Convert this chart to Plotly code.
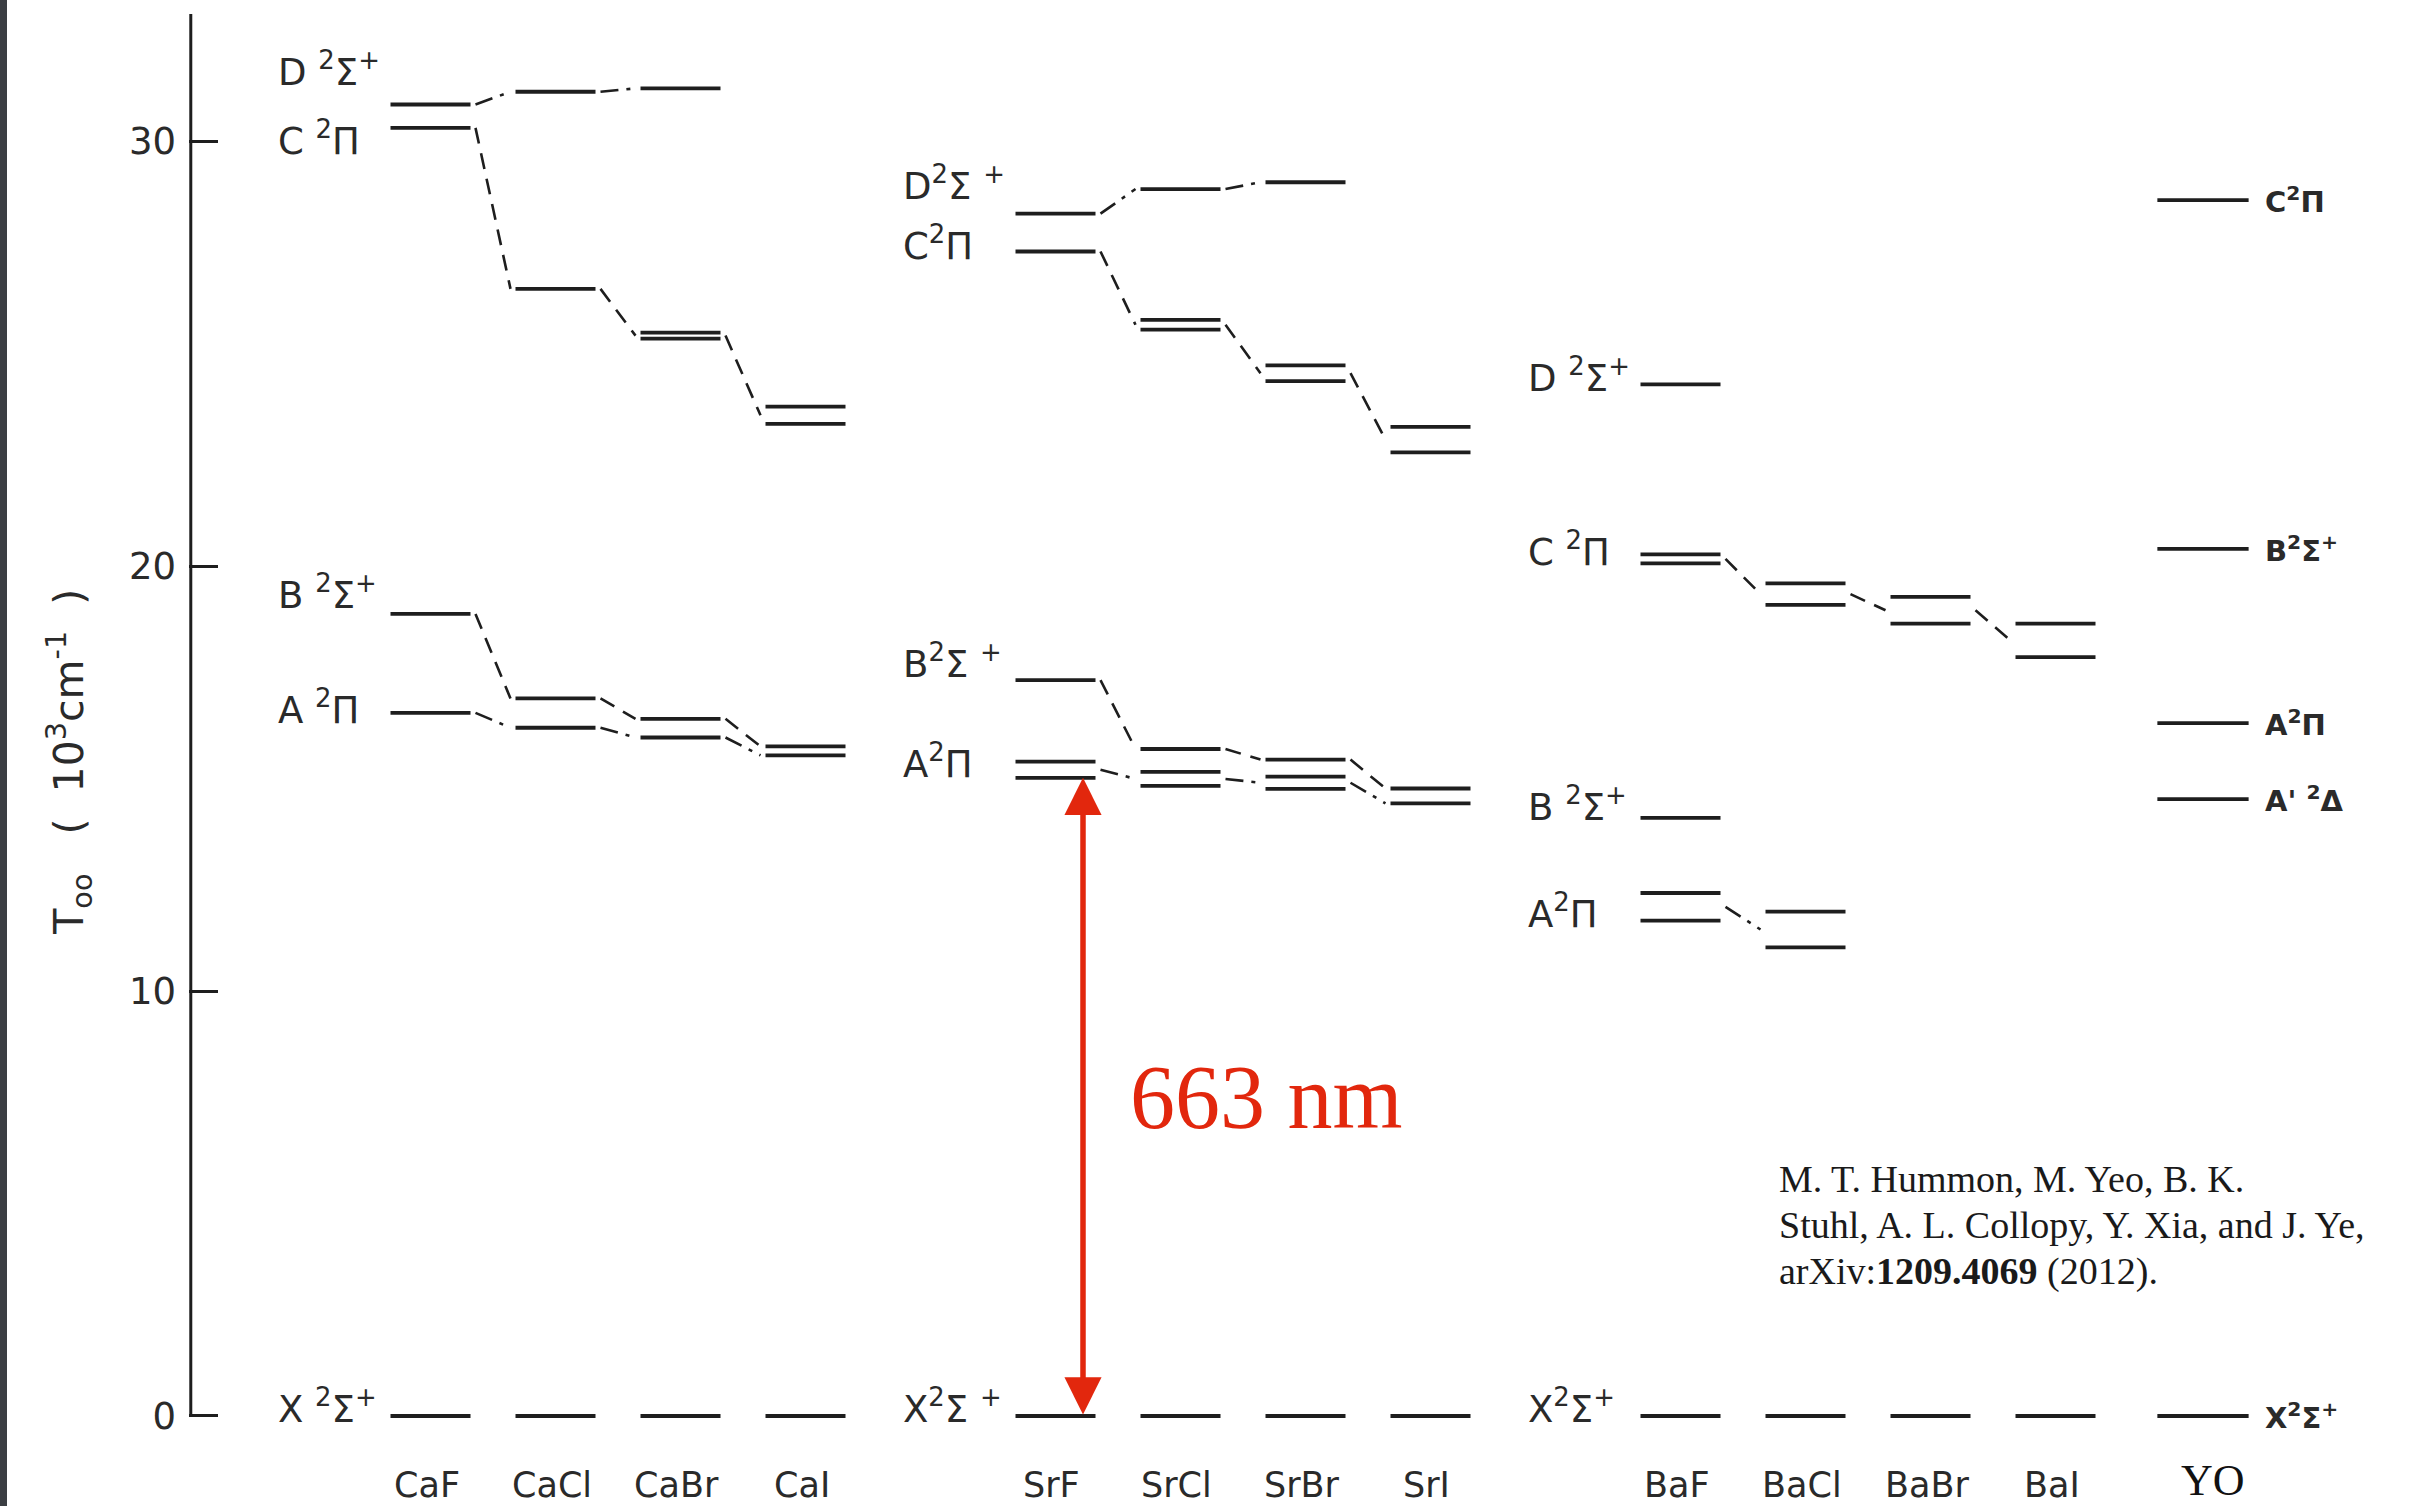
import plotly.graph_objects as go

# ---------------- data (T00 in 10^3 cm^-1) ----------------
molecules = ["CaF", "CaCl", "CaBr", "CaI", "SrF", "SrCl", "SrBr", "SrI",
             "BaF", "BaCl", "BaBr", "BaI", "YO"]
families = ["Ca", "Ca", "Ca", "Ca", "Sr", "Sr", "Sr", "Sr",
            "Ba", "Ba", "Ba", "Ba", "Y"]

# each entry: list of (split) components, or None when not shown
X_state = [[0.0], [0.0], [0.0], [0.0], [0.0], [0.0], [0.0], [0.0],
           [0.0], [0.0], [0.0], [0.0], [0.0]]
A_state = [[16.55], [16.20], [15.97], [15.55], [15.40, 15.02], [15.16, 14.83],
           [15.05, 14.76], [14.42], [12.31, 11.66], [11.87, 11.03], None, None, [16.31]]
B_state = [[18.88], [16.89], [16.41], [15.76], [17.32], [15.70], [15.45], [14.77],
           [14.08], None, None, None, [20.41]]
C_state = [[30.32], [26.53], [25.50, 25.36], [23.76, 23.35], [27.41], [25.80, 25.57],
           [24.73, 24.36], [23.28, 22.68], [20.28, 20.07], [19.60, 19.09],
           [19.28, 18.65], [18.65, 17.86], [28.62]]
D_state = [[30.87], [31.17], [31.25], None, [28.30], [28.88], [29.04], None,
           [24.28], None, None, None, None]
Aprime_state = [None, None, None, None, None, None, None, None,
                None, None, None, None, [14.52]]

y_tick_values = [0, 10, 20, 30]
y_tick_labels = ["0", "10", "20", "30"]

group_labels = {
    "Ca": ["D <sup>2</sup>Σ<sup>+</sup>", "C <sup>2</sup>Π", "B <sup>2</sup>Σ<sup>+</sup>",
           "A <sup>2</sup>Π", "X <sup>2</sup>Σ<sup>+</sup>"],
    "Sr": ["D<sup>2</sup>Σ <sup>+</sup>", "C<sup>2</sup>Π", "B<sup>2</sup>Σ <sup>+</sup>",
           "A<sup>2</sup>Π", "X<sup>2</sup>Σ <sup>+</sup>"],
    "Ba": ["D <sup>2</sup>Σ<sup>+</sup>", "C <sup>2</sup>Π", "B <sup>2</sup>Σ<sup>+</sup>",
           "A<sup>2</sup>Π", "X<sup>2</sup>Σ<sup>+</sup>"],
}
yo_labels = ["C<sup>2</sup>Π", "B<sup>2</sup>Σ<sup>+</sup>", "A<sup>2</sup>Π",
             "A' <sup>2</sup>Δ", "X<sup>2</sup>Σ<sup>+</sup>"]
transition_label = "663 nm"
citation_lines = ["M. T. Hummon, M. Yeo, B. K.",
                  "Stuhl, A. L. Collopy, Y. Xia, and J. Ye,",
                  "arXiv:<b>1209.4069</b> (2012)."]

# ---------------- layout / styling ----------------
W, H = 2413, 1506
ML, MT = 189, 14
PX_PER_COL = 125.0
X0_PX = 430.5                       # pixel position of column 0
x_lo = (ML - X0_PX) / PX_PER_COL
x_hi = x_lo + (W - ML) / PX_PER_COL
y_lo, y_hi = -2.119, 33.0

INK = "#1e1e1e"
TXT = "#2a2a2a"
RED = "#E2270D"
SANS = "DejaVu Sans"
SERIF = "Liberation Serif"
HW, HW_YO = 0.32, 0.365
GAP = 0.04

fam_index = {"Ca": 0, "Sr": 1, "Ba": 2}
pos = []
for i, f in enumerate(families):
    if f in fam_index:
        pos.append(fam_index[f] * 5 + (i % 4))
    else:
        pos.append(14.18)


def hw_of(i):
    return HW_YO if molecules[i] == "YO" else HW


def mean(v):
    return sum(v) / len(v)


fig = go.Figure()

# energy levels
lx, ly = [], []
for state in [X_state, A_state, B_state, C_state, D_state, Aprime_state]:
    for i, vals in enumerate(state):
        if vals is None:
            continue
        for v in vals:
            lx += [pos[i] - hw_of(i), pos[i] + hw_of(i), None]
            ly += [v, v, None]
fig.add_trace(go.Scatter(x=lx, y=ly, mode="lines", line=dict(color=INK, width=3.8),
                         hoverinfo="skip", showlegend=False))

# correlation connectors
DASH = "16px,10px"
DASHDOT = "18px,8px,4px,8px"
for state, dash in [(C_state, DASH), (B_state, DASH), (D_state, DASHDOT), (A_state, DASHDOT)]:
    cx, cy = [], []
    for i in range(len(molecules) - 1):
        a, b = state[i], state[i + 1]
        if a is None or b is None or families[i] != families[i + 1]:
            continue
        cx += [pos[i] + hw_of(i) + GAP, pos[i + 1] - hw_of(i + 1) - GAP, None]
        cy += [mean(a), mean(b), None]
    fig.add_trace(go.Scatter(x=cx, y=cy, mode="lines",
                             line=dict(color=INK, width=2.6, dash=dash),
                             hoverinfo="skip", showlegend=False))

annotations = []

# state labels for each family (left of first column)
label_offsets = {
    "Ca": [0.83, -0.25, 0.50, 0.12, 0.22],
    "Sr": [0.70, 0.19, 0.43, 0.20, 0.22],
    "Ba": [0.22, 0.23, 0.32, -0.10, 0.22],
}
for fam, labels in group_labels.items():
    first = families.index(fam)
    refs = [D_state[first], C_state[first], B_state[first], A_state[first], X_state[first]]
    for text, ref, dy in zip(labels, refs, label_offsets[fam]):
        annotations.append(dict(x=pos[first] - 1.24, y=mean(ref) + dy, xref="x", yref="y",
                                text=text, showarrow=False, xanchor="left", yanchor="middle",
                                font=dict(family=SANS, size=37, color=TXT)))

# YO labels (right of column)
iyo = molecules.index("YO")
for text, ref in zip(yo_labels, [C_state[iyo], B_state[iyo], A_state[iyo],
                                 Aprime_state[iyo], X_state[iyo]]):
    annotations.append(dict(x=pos[iyo] + 0.48, y=mean(ref), xref="x", yref="y",
                            text=text, showarrow=False, xanchor="left", yanchor="middle",
                            font=dict(family=SANS, size=29, color=TXT, weight="bold")))

# molecule names
for i, m in enumerate(molecules):
    if m == "YO":
        annotations.append(dict(x=pos[i] + 0.08, y=-1.52, xref="x", yref="y", text=m,
                                showarrow=False, xanchor="center", yanchor="middle",
                                font=dict(family=SERIF, size=44, color="#111")))
    else:
        annotations.append(dict(x=pos[i] - 0.03, y=-1.62, xref="x", yref="y", text=m,
                                showarrow=False, xanchor="center", yanchor="middle",
                                font=dict(family=SANS, size=35, color=TXT)))

# y-axis title
annotations.append(dict(x=(69 - ML) / (W - ML), y=15.4, xref="paper", yref="y",
                        text="T<sub>oo</sub>   (  10<sup>3</sup>cm<sup>-1</sup>  )",
                        showarrow=False, textangle=-90, xanchor="center", yanchor="middle",
                        font=dict(family=SANS, size=41, color=TXT)))

# 663 nm transition arrow (SrF A -> X)
isrf = molecules.index("SrF")
a_low = min(A_state[isrf])
x_arrow = pos[isrf] + 0.22
annotations.append(dict(x=x_arrow, y=a_low, ax=x_arrow, ay=X_state[isrf][0],
                        xref="x", yref="y", axref="x", ayref="y", text="",
                        showarrow=True, arrowhead=2, startarrowhead=2, arrowside="end+start",
                        arrowwidth=5.5, arrowsize=1.35, startarrowsize=1.35, arrowcolor=RED))
annotations.append(dict(x=pos[isrf] + 0.58, y=7.5, xref="x", yref="y", text=transition_label,
                        showarrow=False, xanchor="left", yanchor="middle",
                        font=dict(family=SERIF, size=90, color=RED)))

# citation
ibaf = molecules.index("BaF")
for k, (line, yy) in enumerate(zip(citation_lines, [5.58, 4.50, 3.40])):
    annotations.append(dict(x=pos[ibaf] + 0.77, y=yy, xref="x", yref="y", text=line,
                            showarrow=False, xanchor="left", yanchor="middle",
                            font=dict(family=SERIF, size=38, color="#1a1a1a")))

shapes = [
    # vertical axis line
    dict(type="line", xref="paper", yref="y", x0=0.0008, x1=0.0008, y0=0, y1=y_hi,
         line=dict(color=INK, width=3)),
    # dark strip at the left edge of the slide
    dict(type="rect", xref="paper", yref="paper",
         x0=-ML / (W - ML), x1=(7 - ML) / (W - ML), y0=0, y1=1.02,
         fillcolor="#3b3e43", line=dict(width=0), layer="above"),
]

fig.update_layout(
    width=W, height=H,
    margin=dict(l=ML, r=0, t=MT, b=0, autoexpand=False),
    paper_bgcolor="white", plot_bgcolor="white",
    showlegend=False,
    annotations=annotations, shapes=shapes,
    xaxis=dict(range=[x_lo, x_hi], visible=False, fixedrange=True),
    yaxis=dict(range=[y_lo, y_hi], showgrid=False, zeroline=False, showline=False,
               tickmode="array", tickvals=y_tick_values, ticktext=y_tick_labels,
               ticks="inside", ticklen=29, tickwidth=3, tickcolor=INK,
               ticklabelstandoff=12, automargin=False,
               tickfont=dict(family=SANS, size=37, color=TXT)),
)

fig.write_html("out.html", config={"displayModeBar": False},
               post_script="document.body.style.margin='0px';")
